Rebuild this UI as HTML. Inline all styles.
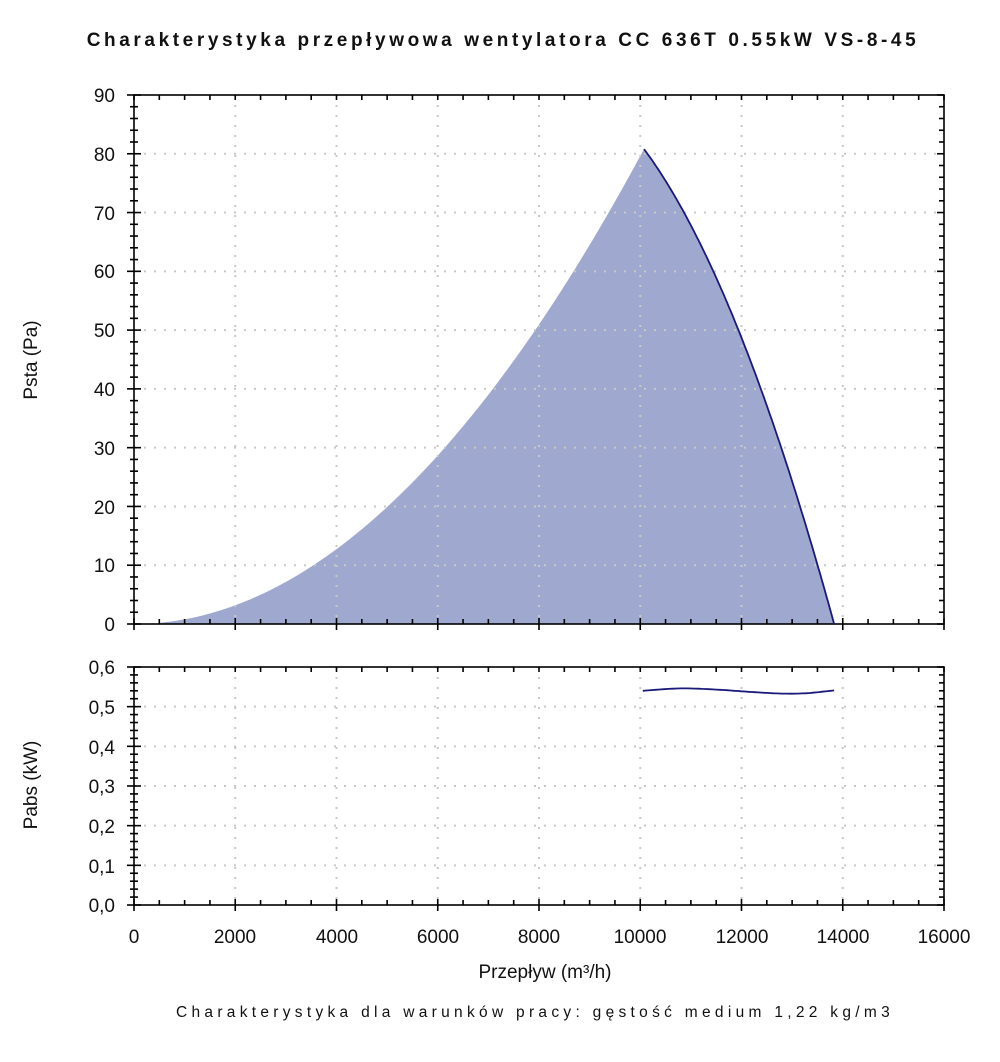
<!DOCTYPE html>
<html><head><meta charset="utf-8"><style>
body{margin:0;background:#fff}
svg{display:block}
text{font-family:"Liberation Sans",sans-serif;fill:#111}
</style></head><body>
<svg id="s" width="1000" height="1062" viewBox="0 0 1000 1062" xmlns="http://www.w3.org/2000/svg">
<text x="503" y="46" text-anchor="middle" font-size="19" font-weight="bold" letter-spacing="3.6">Charakterystyka przepływowa wentylatora CC 636T 0.55kW VS-8-45</text>
<g id="fill"></g>
<g id="grid" stroke="#c8c8c8" stroke-width="2" stroke-dasharray="2,8"></g>
<g id="ax" stroke="#000" stroke-width="1.6" fill="none"></g>
<g id="cur" stroke="#1a1a7a" stroke-width="1.8" fill="none"></g>
<g font-size="19" text-anchor="end">
<text x="115" y="102">90</text><text x="115" y="161">80</text><text x="115" y="220">70</text><text x="115" y="278">60</text><text x="115" y="337">50</text><text x="115" y="396">40</text><text x="115" y="455">30</text><text x="115" y="514">20</text><text x="115" y="572">10</text><text x="115" y="631">0</text>
<text x="115" y="674">0,6</text><text x="115" y="714">0,5</text><text x="115" y="754">0,4</text><text x="115" y="793">0,3</text><text x="115" y="833">0,2</text><text x="115" y="873">0,1</text><text x="115" y="912">0,0</text>
</g>
<g font-size="19" text-anchor="middle">
<text x="134" y="943">0</text><text x="235" y="943">2000</text><text x="337" y="943">4000</text><text x="438" y="943">6000</text><text x="539" y="943">8000</text><text x="640" y="943">10000</text><text x="742" y="943">12000</text><text x="843" y="943">14000</text><text x="944" y="943">16000</text>
<text x="545" y="978">Przepływ (m³/h)</text>
</g>
<text transform="translate(37,360) rotate(-90)" text-anchor="middle" font-size="19">Psta (Pa)</text>
<text transform="translate(37,785) rotate(-90)" text-anchor="middle" font-size="19">Pabs (kW)</text>
<text x="535" y="1017" text-anchor="middle" font-size="15.5" letter-spacing="4.3" fill="#333">Charakterystyka dla warunków pracy: gęstość medium 1,22 kg/m3</text>
</svg>
<script>
const NS="http://www.w3.org/2000/svg";
const px=x=>134+x*0.050625, py=y=>624-y*5.878, pb=p=>905-p*396.7;
function el(g,t,a){const e=document.createElementNS(NS,t);for(const k in a)e.setAttribute(k,a[k]);document.getElementById(g).appendChild(e);return e;}
function ln(g,x1,y1,x2,y2){return el(g,'line',{x1,y1,x2,y2});}
function smooth(pts){
 const out=[];const n=pts.length;
 for(let i=0;i<n-1;i++){const p0=pts[Math.max(i-1,0)],p1=pts[i],p2=pts[i+1],p3=pts[Math.min(i+2,n-1)];
  for(let t=0;t<1;t+=0.1){const t2=t*t,t3=t2*t;
   const f=k=>0.5*((2*p1[k])+(-p0[k]+p2[k])*t+(2*p0[k]-5*p1[k]+4*p2[k]-p3[k])*t2+(-p0[k]+3*p1[k]-3*p2[k]+p3[k])*t3);
   out.push([f(0),f(1)]);}}
 out.push(pts[n-1]);return out;}
for(let i=1;i<8;i++){const x=px(i*2000);ln('grid',x,95,x,624);ln('grid',x,667,x,905);}
for(let i=1;i<9;i++){const y=py(i*10);ln('grid',134,y,944,y);}
for(let i=1;i<6;i++){const y=pb(i*0.1);ln('grid',134,y,944,y);}
function panel(t,b,ymaj,ymin){
 el('ax','rect',{x:134,y:t,width:810,height:b-t});
 for(let x=0;x<=16000;x+=500){const X=px(x),maj=x%2000==0;
  ln('ax',X,b-(maj?6:5),X,b+(maj?6:0));
  ln('ax',X,t,X,t+5);}
 for(const Y of ymaj){ln('ax',127,Y,141,Y);ln('ax',937,Y,944,Y);}
 for(const Y of ymin){ln('ax',130,Y,138,Y);ln('ax',939,Y,944,Y);}
}
let ymaj=[],ymin=[];for(let v=0;v<=90;v+=2){(v%10==0?ymaj:ymin).push(py(v));}
panel(95,624,ymaj,ymin);
ymaj=[];ymin=[];for(let v=0;v<=60;v+=2){(v%10==0?ymaj:ymin).push(pb(v/100));}
panel(667,905,ymaj,ymin);
let d=`M${px(500)},${py(0)}`;
for(let x=500;x<=10074;x+=150){d+=` L${px(x)},${py(80.8*x*x/(10074*10074))}`;}
const desc=[];
for(let x=10074;x<13830;x+=40){const u=x-10074;desc.push([x,80.8-0.011565*u-2.648e-6*u*u]);}
desc.push([13830,0]);
let dc='M'+desc.map(p=>px(p[0]).toFixed(1)+','+py(Math.max(p[1],0)).toFixed(1)).join(' L');
d+=dc.replace('M',' L')+' Z';
el('fill','path',{d,fill:'#9fa9d0'});
el('cur','path',{d:dc});
const pw=smooth([[10050,0.540],[10800,0.546],[11500,0.543],[12200,0.537],[12800,0.533],[13300,0.534],[13830,0.541]]);
el('cur','path',{d:'M'+pw.map(p=>px(p[0]).toFixed(1)+','+pb(p[1]).toFixed(1)).join(' L')});
</script>
</body></html>
